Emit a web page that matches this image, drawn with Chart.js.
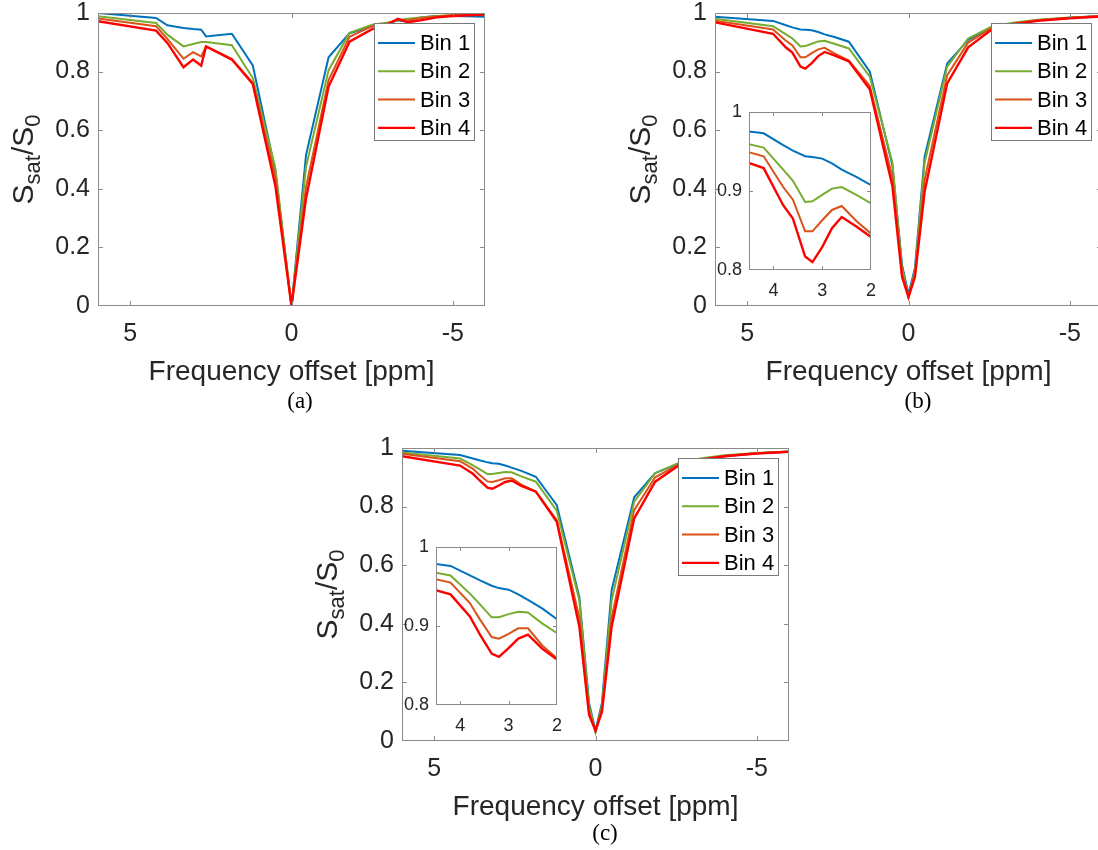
<!DOCTYPE html>
<html>
<head>
<meta charset="utf-8">
<script src="https://cdn.jsdelivr.net/npm/chart.js@4"></script>
<style>
  body { margin: 0; width: 1098px; height: 850px; overflow: hidden; background: #fff; position: relative; }
  canvas { position: absolute; }
  .cap { position: absolute; font-family: "Liberation Serif", "DejaVu Serif", serif; font-size: 23px; color: #000;
         transform: translate(-50%, -50%); white-space: nowrap; }
</style>
</head>
<body>
<canvas id="chartA" width="500" height="390" style="left:0px;top:0px"></canvas>
<canvas id="chartB" width="500" height="390" style="left:617px;top:0px"></canvas>
<canvas id="chartC" width="500" height="390" style="left:304px;top:435px"></canvas>
<canvas id="insetB" width="190" height="210" style="left:700px;top:95px"></canvas>
<canvas id="insetC" width="190" height="210" style="left:387px;top:530px"></canvas>
<div class="cap" style="left:300px;top:401px">(a)</div>
<div class="cap" style="left:918px;top:401px">(b)</div>
<div class="cap" style="left:605px;top:833px">(c)</div>
<script>
const binLabels = ['Bin 1', 'Bin 2', 'Bin 3', 'Bin 4'];
const binColors = ['#0072BD', '#77AC30', '#D95319', '#FF0000'];

// panel (a): frequency offsets [ppm] and normalised signal per bin
const offsetsA = [6, 4.2, 3.85, 3.35, 3.05, 2.8, 2.65, 1.85, 1.2, 0.5, 0, -0.45, -1.15, -1.8, -2.5, -3, -3.3, -3.6, -4, -4.5, -5, -6];
const bin1A = [1.0, 0.983, 0.958, 0.949, 0.945, 0.943, 0.920, 0.929, 0.821, 0.46, 0.0, 0.515, 0.849, 0.931, 0.955, 0.965, 0.975, 0.970, 0.985, 0.990, 0.990, 0.987];
const bin2A = [0.989, 0.966, 0.926, 0.886, 0.894, 0.901, 0.901, 0.890, 0.778, 0.47, 0.0, 0.475, 0.805, 0.932, 0.960, 0.968, 0.975, 0.980, 0.985, 0.990, 0.993, 0.996];
const bin3A = [0.981, 0.955, 0.912, 0.844, 0.866, 0.852, 0.886, 0.844, 0.761, 0.44, 0.0, 0.406, 0.771, 0.919, 0.955, 0.965, 0.978, 0.975, 0.982, 0.988, 0.992, 0.995];
const bin4A = [0.972, 0.940, 0.898, 0.815, 0.841, 0.820, 0.886, 0.841, 0.758, 0.41, 0.0, 0.367, 0.749, 0.902, 0.945, 0.962, 0.980, 0.968, 0.975, 0.985, 0.990, 0.995];

// panels (b) and (c)
const offsetsBC = [6, 4.2, 3.8, 3.6, 3.35, 3.2, 3.0, 2.8, 2.6, 2.3, 1.85, 1.2, 0.5, 0.2, 0, -0.2, -0.5, -1.2, -1.85, -2.6, -3.3, -4, -5, -6];
const bin1B = [0.987, 0.973, 0.958, 0.951, 0.944, 0.943, 0.941, 0.935, 0.927, 0.918, 0.902, 0.800, 0.48, 0.14, 0.04, 0.13, 0.51, 0.828, 0.908, 0.953, 0.965, 0.975, 0.984, 0.990];
const bin2B = [0.980, 0.955, 0.927, 0.913, 0.886, 0.887, 0.895, 0.903, 0.905, 0.895, 0.879, 0.783, 0.49, 0.13, 0.03, 0.12, 0.49, 0.817, 0.913, 0.955, 0.968, 0.977, 0.985, 0.990];
const bin3B = [0.974, 0.944, 0.905, 0.889, 0.849, 0.849, 0.863, 0.876, 0.881, 0.862, 0.838, 0.751, 0.44, 0.11, 0.035, 0.11, 0.43, 0.788, 0.899, 0.950, 0.965, 0.975, 0.984, 0.990];
const bin4B = [0.968, 0.929, 0.882, 0.865, 0.817, 0.810, 0.829, 0.853, 0.867, 0.855, 0.835, 0.740, 0.41, 0.10, 0.03, 0.10, 0.39, 0.760, 0.883, 0.945, 0.962, 0.973, 0.982, 0.988];

const bin1C = [0.991, 0.976, 0.964, 0.958, 0.951, 0.948, 0.946, 0.940, 0.933, 0.922, 0.902, 0.805, 0.49, 0.13, 0.035, 0.13, 0.515, 0.832, 0.914, 0.948, 0.962, 0.972, 0.982, 0.987];
const bin2C = [0.985, 0.964, 0.941, 0.928, 0.911, 0.911, 0.915, 0.918, 0.917, 0.903, 0.885, 0.786, 0.48, 0.12, 0.03, 0.12, 0.48, 0.817, 0.914, 0.950, 0.965, 0.975, 0.983, 0.988];
const bin3C = [0.980, 0.955, 0.929, 0.909, 0.886, 0.884, 0.890, 0.897, 0.897, 0.875, 0.851, 0.754, 0.42, 0.10, 0.035, 0.11, 0.42, 0.788, 0.900, 0.945, 0.962, 0.973, 0.982, 0.987];
const bin4C = [0.972, 0.940, 0.912, 0.890, 0.865, 0.861, 0.872, 0.884, 0.889, 0.871, 0.851, 0.748, 0.39, 0.09, 0.035, 0.10, 0.39, 0.760, 0.885, 0.942, 0.960, 0.972, 0.981, 0.987];

const mainXTicks = [5, 0, -5];
const mainYTicks = [0, 0.2, 0.4, 0.6, 0.8, 1];
const insetXTicks = [4, 3, 2];
const insetYTicks = [0.8, 0.9, 1];

const FONT = '"Liberation Sans", Arial, Helvetica, sans-serif';
const TEXT = '#262626';
const BOX = '#8a8a8a';

function series(xs, ys) {
  return xs.map((x, i) => ({ x: x, y: ys[i] }));
}

function datasets(xs, bins) {
  return bins.map((ys, i) => ({
    label: binLabels[i],
    data: series(xs, ys),
    borderColor: binColors[i],
    backgroundColor: binColors[i],
    borderWidth: i === 3 ? 2.4 : 2,
    pointRadius: 0,
    tension: 0,
    fill: false,
    order: 3 - i
  }));
}

// plain number labels like matlab: 1, 0.8, 0
const plainLabel = v => String(Number(v.toFixed(2)));

// box around the axes with small inward tick marks, matlab style
const framePlugin = {
  id: 'frame',
  beforeDatasetsDraw(chart, args, opts) {
    if (!opts.fill) return;
    const a = chart.chartArea;
    chart.ctx.save();
    chart.ctx.fillStyle = '#fff';
    chart.ctx.fillRect(a.left, a.top, a.width, a.height);
    chart.ctx.restore();
  },
  afterDatasetsDraw(chart, args, opts) {
    const { ctx, chartArea: a, scales } = chart;
    const L = opts.tick || 5;
    ctx.save();
    ctx.strokeStyle = BOX;
    ctx.lineWidth = 1;
    ctx.strokeRect(Math.round(a.left) + 0.5, Math.round(a.top) + 0.5, Math.round(a.width) - 1, Math.round(a.height) - 1);
    ctx.beginPath();
    scales.x.ticks.forEach(t => {
      const px = Math.round(scales.x.getPixelForValue(t.value)) + 0.5;
      if (px < a.left + 2 || px > a.right - 2) return;
      ctx.moveTo(px, a.bottom); ctx.lineTo(px, a.bottom - L);
      ctx.moveTo(px, a.top); ctx.lineTo(px, a.top + L);
    });
    scales.y.ticks.forEach(t => {
      const py = Math.round(scales.y.getPixelForValue(t.value)) + 0.5;
      if (py < a.top + 2 || py > a.bottom - 2) return;
      ctx.moveTo(a.left, py); ctx.lineTo(a.left + L, py);
      ctx.moveTo(a.right, py); ctx.lineTo(a.right - L, py);
    });
    ctx.stroke();
    ctx.restore();
  }
};

// legend in a bordered box at the top right of the plot
const boxLegend = {
  id: 'boxLegend',
  afterDraw(chart, args, opts) {
    if (!opts.show) return;
    const { ctx, chartArea: a } = chart;
    const w = 101, h = 118;
    const x0 = a.right - 10 - w, y0 = a.top + 10;
    ctx.save();
    ctx.fillStyle = '#fff';
    ctx.fillRect(x0, y0, w, h);
    ctx.strokeStyle = '#7a7a7a';
    ctx.lineWidth = 1;
    ctx.strokeRect(x0 + 0.5, y0 + 0.5, w - 1, h - 1);
    ctx.font = '22px ' + FONT;
    ctx.textBaseline = 'middle';
    ctx.textAlign = 'left';
    chart.data.datasets.forEach((ds, i) => {
      const cy = y0 + 20 + i * 28.3;
      ctx.strokeStyle = ds.borderColor;
      ctx.lineWidth = ds.borderWidth;
      ctx.beginPath();
      ctx.moveTo(x0 + 4, cy);
      ctx.lineTo(x0 + 41, cy);
      ctx.stroke();
      ctx.fillStyle = '#000';
      ctx.fillText(ds.label, x0 + 46, cy + 1);
    });
    ctx.restore();
  }
};

// rotated y title with subscripts: S_sat / S_0
const yTitle = {
  id: 'yTitle',
  afterDraw(chart, args, opts) {
    if (!opts.show) return;
    const { ctx, chartArea: a } = chart;
    const parts = [['S', 30, 0], ['sat', 22, 7], ['/S', 30, 0], ['0', 22, 7]];
    ctx.save();
    ctx.fillStyle = TEXT;
    ctx.textBaseline = 'alphabetic';
    ctx.textAlign = 'left';
    let total = 0;
    parts.forEach(p => { ctx.font = p[1] + 'px ' + FONT; total += ctx.measureText(p[0]).width; });
    ctx.translate(33, (a.top + a.bottom) / 2);
    ctx.rotate(-Math.PI / 2);
    let x = -total / 2;
    parts.forEach(p => {
      ctx.font = p[1] + 'px ' + FONT;
      ctx.fillText(p[0], x, p[2]);
      x += ctx.measureText(p[0]).width;
    });
    ctx.restore();
  }
};

function mainChart(id, xs, bins) {
  return new Chart(document.getElementById(id), {
    type: 'line',
    data: { datasets: datasets(xs, bins) },
    options: {
      responsive: false,
      animation: false,
      layout: { padding: { top: 13, right: 15, left: 0, bottom: 0 } },
      plugins: {
        legend: { display: false },
        tooltip: { enabled: false },
        boxLegend: { show: true },
        yTitle: { show: true },
        frame: { tick: 5 }
      },
      scales: {
        x: {
          type: 'linear', min: -6, max: 6, reverse: true,
          grid: { display: false, drawTicks: false },
          border: { display: false },
          ticks: { font: { family: FONT, size: 25 }, color: TEXT, padding: 13, maxRotation: 0, autoSkip: false, callback: plainLabel },
          title: { display: true, text: 'Frequency offset [ppm]', font: { family: FONT, size: 28 }, color: TEXT, padding: { top: 0, bottom: 1 } },
          afterBuildTicks: s => { s.ticks = mainXTicks.map(v => ({ value: v })); },
          afterFit: s => { s.height = 84; s.paddingLeft = 0; s.paddingRight = 0; }
        },
        y: {
          type: 'linear', min: 0, max: 1,
          grid: { display: false, drawTicks: false },
          border: { display: false },
          ticks: { font: { family: FONT, size: 25 }, color: TEXT, padding: 8, callback: plainLabel },
          afterBuildTicks: s => { s.ticks = mainYTicks.map(v => ({ value: v })); },
          afterFit: s => { s.width = 98; s.paddingTop = 0; s.paddingBottom = 0; }
        }
      }
    },
    plugins: [framePlugin, boxLegend, yTitle]
  });
}

function insetChart(id, xs, bins, padRight) {
  const ds = datasets(xs, bins);
  ds.forEach(d => { d.clip = 0; });
  return new Chart(document.getElementById(id), {
    type: 'line',
    data: { datasets: ds },
    options: {
      responsive: false,
      animation: false,
      layout: { padding: { top: 17, right: padRight, left: 0, bottom: 0 } },
      plugins: {
        legend: { display: false },
        tooltip: { enabled: false },
        frame: { fill: true, tick: 4 }
      },
      scales: {
        x: {
          type: 'linear', min: 2, max: 4.5, reverse: true,
          grid: { display: false, drawTicks: false },
          border: { display: false },
          ticks: { font: { family: FONT, size: 18 }, color: TEXT, padding: 10, maxRotation: 0, autoSkip: false, callback: plainLabel },
          afterBuildTicks: s => { s.ticks = insetXTicks.map(v => ({ value: v })); },
          afterFit: s => { s.height = 35; s.paddingLeft = 0; s.paddingRight = 0; }
        },
        y: {
          type: 'linear', min: 0.8, max: 1,
          grid: { display: false, drawTicks: false },
          border: { display: false },
          ticks: { font: { family: FONT, size: 18 }, color: TEXT, padding: 7, callback: plainLabel },
          afterBuildTicks: s => { s.ticks = insetYTicks.map(v => ({ value: v })); },
          afterFit: s => { s.width = 49; s.paddingTop = 0; s.paddingBottom = 0; }
        }
      }
    },
    plugins: [framePlugin]
  });
}

mainChart('chartA', offsetsA, [bin1A, bin2A, bin3A, bin4A]);
mainChart('chartB', offsetsBC, [bin1B, bin2B, bin3B, bin4B]);
mainChart('chartC', offsetsBC, [bin1C, bin2C, bin3C, bin4C]);
insetChart('insetB', offsetsBC, [bin1B, bin2B, bin3B, bin4B], 19);
insetChart('insetC', offsetsBC, [bin1C, bin2C, bin3C, bin4C], 20);
</script>
</body>
</html>
